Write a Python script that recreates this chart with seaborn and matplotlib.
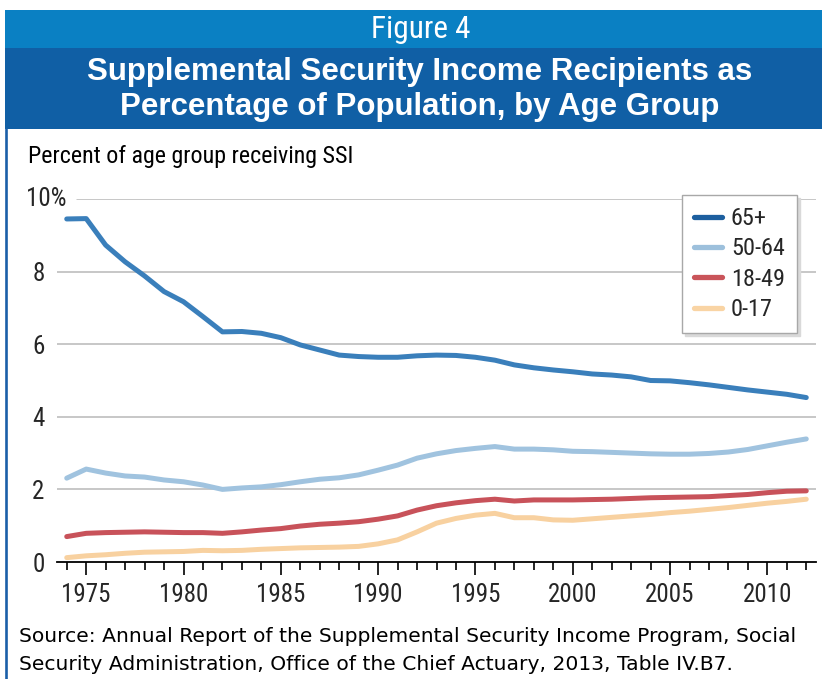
import numpy as np
import pandas as pd
import matplotlib
matplotlib.use("Agg")
import matplotlib.pyplot as plt
import seaborn as sns
from matplotlib.patches import Rectangle
from matplotlib.lines import Line2D
from matplotlib import font_manager as fm

# ---------------- data ----------------
years = list(range(1974, 2013))
age_groups = ["65+", "50-64", "18-49", "0-17"]

pct_65_plus = [9.45, 9.46, 8.73, 8.27, 7.88, 7.45, 7.17, 6.76, 6.34, 6.35,
               6.30, 6.18, 5.98, 5.84, 5.70, 5.66, 5.64, 5.64, 5.68, 5.70,
               5.69, 5.64, 5.56, 5.43, 5.35, 5.29, 5.24, 5.18, 5.15, 5.10,
               5.00, 4.99, 4.94, 4.88, 4.81, 4.74, 4.68, 4.62, 4.53]
pct_50_64 = [2.31, 2.56, 2.45, 2.37, 2.34, 2.26, 2.21, 2.12, 2.00, 2.04,
             2.07, 2.13, 2.21, 2.28, 2.32, 2.40, 2.53, 2.67, 2.86, 2.98,
             3.07, 3.13, 3.18, 3.11, 3.11, 3.09, 3.05, 3.04, 3.02, 3.00,
             2.98, 2.97, 2.97, 2.99, 3.03, 3.10, 3.20, 3.30, 3.39]
pct_18_49 = [0.70, 0.79, 0.81, 0.82, 0.83, 0.82, 0.81, 0.81, 0.79, 0.83,
             0.88, 0.92, 0.99, 1.04, 1.07, 1.11, 1.18, 1.27, 1.43, 1.55,
             1.63, 1.69, 1.73, 1.68, 1.71, 1.71, 1.71, 1.72, 1.73, 1.75,
             1.77, 1.78, 1.79, 1.80, 1.83, 1.86, 1.91, 1.95, 1.96]
pct_0_17 = [0.12, 0.17, 0.20, 0.24, 0.27, 0.28, 0.29, 0.32, 0.31, 0.32,
            0.35, 0.37, 0.39, 0.40, 0.41, 0.43, 0.50, 0.61, 0.83, 1.07,
            1.20, 1.29, 1.34, 1.22, 1.22, 1.16, 1.15, 1.19, 1.23, 1.27,
            1.31, 1.36, 1.40, 1.45, 1.50, 1.56, 1.62, 1.67, 1.73]

y_ticks = [0, 2, 4, 6, 8, 10]
y_tick_labels = ["0", "2", "4", "6", "8", ""]
x_major_ticks = [1975, 1980, 1985, 1990, 1995, 2000, 2005, 2010]

fig_title_top = "Figure 4"
title_lines = ["Supplemental Security Income Recipients as",
               "Percentage of Population, by Age Group"]
y_label = "Percent of age group receiving SSI"
source_lines = ["Source: Annual Report of the Supplemental Security Income Program, Social",
                "Security Administration, Office of the Chief Actuary, 2013, Table IV.B7."]

series = {"65+": pct_65_plus, "50-64": pct_50_64, "18-49": pct_18_49, "0-17": pct_0_17}
df = pd.concat([pd.DataFrame({"year": years, "pct": vals, "group": g})
                for g, vals in series.items()], ignore_index=True)

palette = {"65+": "#3a7fbb", "50-64": "#a0c3df", "18-49": "#c8525a", "0-17": "#f8d1a0"}
legend_colors = {"65+": "#1d5f9f", "50-64": "#9dc0dc", "18-49": "#c9545a", "0-17": "#f9d4a4"}

# ---------------- fonts: look for a condensed face ----------------
ttf = fm.fontManager.ttflist
names = {f.name for f in ttf}
cond_family, cond_stretch, cond_scale = None, "normal", 1.0
for nm in ["Liberation Sans Narrow", "Roboto Condensed", "Open Sans Condensed",
           "Noto Sans Condensed", "DejaVu Sans Condensed", "Arial Narrow"]:
    if nm in names:
        cond_family = nm
        break
if cond_family is None:
    for pref in ["Noto Sans", "Open Sans", "DejaVu Sans", "Roboto", "Lato", "Inter"]:
        hits = [f for f in ttf if f.name == pref and str(f.stretch) in
                ("condensed", "semi-condensed", "extra-condensed", "ultra-condensed")]
        if hits:
            cond_family, cond_stretch = pref, str(hits[0].stretch)
            break
if cond_family is None:
    cond_family, cond_stretch, cond_scale = "Roboto", "normal", 0.9
COND = [cond_family, "DejaVu Sans"]

def cfont(size, **kw):
    d = dict(family=COND, stretch=cond_stretch, size=size * cond_scale)
    d.update(kw)
    return fm.FontProperties(**d)

# ---------------- style ----------------
sns.set_theme(style="white")
plt.rcParams["font.family"] = COND
plt.rcParams["font.stretch"] = cond_stretch

W, H = 822, 679
fig = plt.figure(figsize=(W / 100, H / 100), dpi=100)
fig.patch.set_facecolor("white")

def fx(px):
    return px / W

def fy(py):
    return 1 - py / H

# header bands
fig.patches.append(Rectangle((fx(5), fy(48)), 1 - fx(5), fy(10) - fy(48),
                             transform=fig.transFigure, facecolor="#0a80c3",
                             edgecolor="none", zorder=0))
fig.patches.append(Rectangle((fx(5), fy(129)), 1 - fx(5), fy(48) - fy(129),
                             transform=fig.transFigure, facecolor="#105fa5",
                             edgecolor="none", zorder=0))
fig.lines.append(Line2D([fx(6), fx(6)], [0, fy(129)], transform=fig.transFigure,
                        color="#1a5fa8", linewidth=1.9))

fig.text(fx(421), fy(30), fig_title_top, color="white",
         fontproperties=cfont(22.5), ha="center", va="center")
title_fp = fm.FontProperties(family=["Liberation Sans", "DejaVu Sans"], weight="bold", size=22.5)
fig.text(fx(420), fy(72), title_lines[0], color="white",
         fontproperties=title_fp, ha="center", va="center")
fig.text(fx(420), fy(107), title_lines[1], color="white",
         fontproperties=title_fp, ha="center", va="center")

fig.text(fx(28), fy(157), y_label, color="black",
         fontproperties=cfont(17.3), ha="left", va="center")

src_fp = fm.FontProperties(family=["DejaVu Sans"], size=14.6)
fig.text(fx(19), fy(637), source_lines[0], color="black",
         fontproperties=src_fp, ha="left", va="center")
fig.text(fx(19), fy(664), source_lines[1], color="black",
         fontproperties=src_fp, ha="left", va="center")

# ---------------- axes ----------------
ax = fig.add_axes([fx(57), 1 - 562 / H, (816 - 57) / W, (562 - 199) / H])
ax.set_facecolor("white")

for v in y_ticks[1:-1]:
    ax.axhline(v, color="#b8b8b8", linewidth=1.1, zorder=0)
ax.axhline(10, xmin=(77 - 57) / (816 - 57), xmax=1, color="#b8b8b8", linewidth=1.1, zorder=0)

sns.lineplot(data=df, x="year", y="pct", hue="group", hue_order=age_groups,
             palette=palette, linewidth=3.6, ax=ax, legend=True,
             solid_capstyle="round", solid_joinstyle="round")

ax.set_xlim(1973.5, 2012.5)
ax.set_ylim(0, 10)
ax.set_xlabel("")
ax.set_ylabel("")

for s in ["left", "right", "top"]:
    ax.spines[s].set_visible(False)
ax.spines["bottom"].set_color("black")
ax.spines["bottom"].set_linewidth(1.3)
ax.spines["bottom"].set_zorder(5)

ax.set_xticks(x_major_ticks)
ax.set_xticklabels([str(y) for y in x_major_ticks])
ax.set_xticks(years, minor=True)
ax.tick_params(axis="x", which="major", direction="out", length=9, width=1.2,
               color="black", pad=6, bottom=True)
ax.tick_params(axis="x", which="minor", direction="out", length=5.5, width=1.2,
               color="black", bottom=True)

ax.set_yticks(y_ticks)
ax.set_yticklabels(y_tick_labels)
ax.tick_params(axis="y", which="both", length=0, pad=9, left=True)
tick_fp = cfont(18)
for lbl in ax.get_xticklabels() + ax.get_yticklabels():
    lbl.set_fontproperties(tick_fp)
ax.text(fx(66), fy(199), "10%", transform=fig.transFigure,
        fontproperties=tick_fp, ha="right", va="center")

# legend
handles, labels = ax.get_legend_handles_labels()
new_handles = [Line2D([0], [0], color=legend_colors[l], linewidth=3.8) for l in labels]
leg = ax.legend(new_handles, labels, loc="upper right",
                bbox_to_anchor=(fx(797), fy(195)), bbox_transform=fig.transFigure,
                borderaxespad=0, frameon=True, fancybox=False,
                shadow={"color": "0.85", "alpha": 1.0},
                edgecolor="#a8a8a8", facecolor="white", framealpha=1,
                handlelength=1.15, handletextpad=0.35, labelspacing=0.3,
                borderpad=0.5, prop=cfont(17.5))
leg.get_frame().set_linewidth(1.0)

fig.savefig("out.png", dpi=100)
